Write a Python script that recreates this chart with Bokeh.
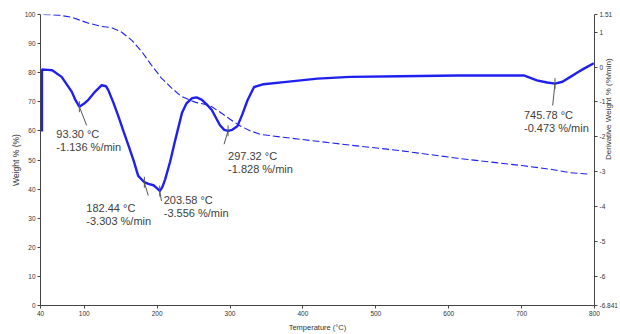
import math
from bokeh.plotting import figure
from bokeh.models import (Range1d, LinearAxis, FixedTicker, CustomJSTickFormatter,
                          ColumnDataSource)
from bokeh.embed import file_html
from bokeh.resources import INLINE
from bokeh.core.properties import value

# ---- data ----
weight_temp = [44, 65, 82, 106, 124, 137, 151, 165, 179, 192, 206, 220, 233, 245, 253,
               265, 275, 287, 300, 314, 328, 342, 370, 397, 465, 534, 612, 703, 740, 767, 790]
weight_pct = [100.0, 99.8, 99.1, 97.0, 95.9, 95.5, 94.0, 91.2, 87.2, 82.7, 78.1, 74.7, 71.9, 70.6, 69.8,
              69.2, 68.3, 66.3, 64.0, 61.7, 60.0, 58.8, 57.9, 57.1, 55.1, 53.2, 50.6, 48.0, 46.8, 45.6, 45.2]

deriv_temp = [42, 42, 50, 56, 69, 83, 88, 93.3, 99, 106, 115, 124, 130, 133, 140, 147, 154, 161,
              168, 174, 182.44, 188, 195, 200, 203.58, 207, 211, 218, 225, 234, 240, 248, 254, 261,
              268, 275, 286, 292, 297.32, 303, 310, 317, 324, 333, 346, 374, 420, 465, 534, 612,
              703, 721, 735, 745.78, 756, 767, 776, 785, 799]
deriv_val = [-1.85, -0.07, -0.08, -0.09, -0.28, -0.71, -0.95, -1.136, -1.06, -0.93, -0.70, -0.52, -0.55,
             -0.66, -1.02, -1.42, -1.85, -2.27, -2.70, -3.12, -3.303, -3.35, -3.39, -3.48, -3.556,
             -3.45, -3.22, -2.70, -2.08, -1.32, -1.05, -0.89, -0.87, -0.93, -1.07, -1.23, -1.66,
             -1.80, -1.828, -1.80, -1.70, -1.35, -0.95, -0.57, -0.49, -0.43, -0.33, -0.28, -0.26,
             -0.24, -0.24, -0.38, -0.44, -0.473, -0.42, -0.28, -0.16, -0.05, 0.11]

peak_temp = [93.30, 182.44, 203.58, 297.32, 745.78]
peak_deriv = [-1.136, -3.303, -3.556, -1.828, -0.473]
peak_text = ["93.30 °C\n-1.136 %/min", "182.44 °C\n-3.303 %/min", "203.58 °C\n-3.556 %/min",
             "297.32 °C\n-1.828 %/min", "745.78 °C\n-0.473 %/min"]

x_ticks = [40, 100, 200, 300, 400, 500, 600, 700, 800]
left_ticks = [0, 10, 20, 30, 40, 50, 60, 70, 80, 90, 100]
right_ticks = [1.51, 1, 0, -1, -2, -3, -4, -5, -6, -6.841]

# ---- styling / layout (not data) ----
label_dx = [-23, -58, 4, 0, -31]
label_dy = [21, 20, 3, 19, 25]
leader_angle = [-68.7, -73.7, -80, -106.7, -96]
leader_len = [20, 14, 10, 14, 22]

BLUE = "#1f1ff0"
AXC = "#444444"
TXT = "#404040"
FONT = "Liberation Sans"

p = figure(width=620, height=334, output_backend="svg", toolbar_location=None,
           x_range=Range1d(40, 800), y_range=Range1d(0, 100),
           min_border_left=40, min_border_right=26, min_border_top=14, min_border_bottom=26,
           outline_line_color=None)
p.extra_y_ranges = {"dtg": Range1d(-6.841, 1.51)}
p.grid.visible = False

raxis = LinearAxis(y_range_name="dtg")
p.add_layout(raxis, "right")

p.xaxis.ticker = FixedTicker(ticks=x_ticks)
p.yaxis[0].ticker = FixedTicker(ticks=left_ticks)
raxis.ticker = FixedTicker(ticks=right_ticks)
raxis.formatter = CustomJSTickFormatter(code="return String(tick);")

p.xaxis.axis_label = "Temperature (°C)"
p.yaxis[0].axis_label = "Weight % (%)"
raxis.axis_label = "Derivative Weight % (%/min)"

for ax in [p.xaxis[0], p.yaxis[0], raxis]:
    ax.major_tick_out = 3
    ax.major_tick_in = 0
    ax.minor_tick_out = 0
    ax.minor_tick_in = 0
    ax.axis_line_color = AXC
    ax.major_tick_line_color = AXC
    ax.major_label_text_font_size = "6.5px"
    ax.major_label_text_color = "#333333"
    ax.major_label_text_font = FONT
    ax.major_label_standoff = 2
    ax.axis_label_text_font = FONT
    ax.axis_label_text_font_size = "8.5px"
    ax.axis_label_text_font_style = "normal"
    ax.axis_label_text_color = "#333333"
    ax.axis_label_standoff = 1
p.xaxis[0].axis_label_standoff = 4
p.xaxis[0].axis_label_text_font_size = "7.5px"

# right title: sits just right of the short tick labels and reads bottom-to-top
raxis.axis_label_text_font_size = "8px"
raxis.axis_label_standoff = -12
try:
    raxis.axis_label_orientation = math.pi / 2
except Exception:
    pass

# curves
p.line(weight_temp, weight_pct, line_dash="7 3", line_width=1.1, color=BLUE)
p.line(deriv_temp, deriv_val, y_range_name="dtg", line_width=2.4, color=BLUE)

# peak annotations
src = ColumnDataSource(dict(x=peak_temp, y=peak_deriv, text=peak_text,
                            dx=label_dx, dy=label_dy, ang=leader_angle, ln=leader_len))
p.scatter("x", "y", source=src, y_range_name="dtg", marker="dash", size=11, angle=90,
          angle_units="deg", line_color="#555555", line_width=1)
p.ray("x", "y", source=src, y_range_name="dtg", length="ln", angle="ang",
      length_units="screen", angle_units="deg", line_color="#555555", line_width=1)
p.text("x", "y", text="text", source=src, y_range_name="dtg", x_offset="dx", y_offset="dy",
       text_font=value(FONT), text_font_size="11px", text_color=TXT,
       text_align="left", text_baseline="top", text_line_height=1.1)

open("out.html", "w").write(file_html(p, INLINE))
